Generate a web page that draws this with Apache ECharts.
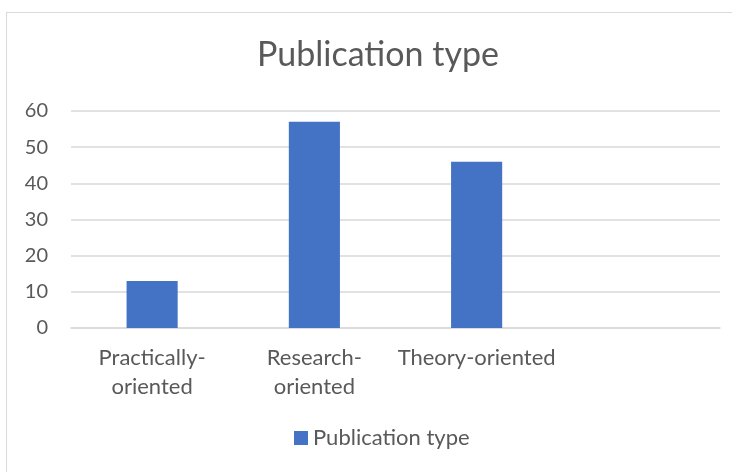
<!DOCTYPE html>
<html>
<head>
<meta charset="utf-8">
<script src="https://cdn.jsdelivr.net/npm/echarts@6/dist/echarts.min.js"></script>
<style>
html,body{margin:0;padding:0;background:#fff;}
#c{width:741px;height:472px;}
</style>
</head>
<body>
<div id="c"></div>
<script>
var chartTitle = 'Publication type';
var seriesName = 'Publication type';
var categories = ['Practically-\noriented', 'Research-\noriented', 'Theory-oriented', ''];
var values = [13, 57, 46];
var yTicks = { min: 0, max: 60, interval: 10 };

var textColor = '#595959';
var gridColor = '#d9d9d9';
var font = 'Lato';

var chart = echarts.init(document.getElementById('c'), null, { renderer: 'canvas' });
chart.setOption({
  animation: false,
  backgroundColor: '#ffffff',
  title: {
    text: chartTitle,
    left: 257,
    top: 35,
    padding: 0,
    textStyle: { color: textColor, fontFamily: font, fontSize: 34, fontWeight: 'normal', lineHeight: 40 }
  },
  grid: { left: 71, right: 21, top: 111, bottom: 144, containLabel: false },
  xAxis: {
    type: 'category',
    data: categories,
    axisLine: { show: true, lineStyle: { color: gridColor, width: 1.5 } },
    axisTick: { show: false },
    axisLabel: { color: textColor, fontFamily: font, fontSize: 22, lineHeight: 29, margin: 15, interval: 0 }
  },
  yAxis: {
    type: 'value',
    min: yTicks.min,
    max: yTicks.max,
    interval: yTicks.interval,
    axisLine: { show: false },
    axisTick: { show: false },
    splitLine: { lineStyle: { color: gridColor, width: 1.5 } },
    axisLabel: { color: textColor, fontFamily: font, fontSize: 20, margin: 23 }
  },
  legend: {
    data: [seriesName],
    bottom: 18,
    left: 289,
    itemWidth: 14,
    itemHeight: 14,
    itemGap: 10,
    icon: 'rect',
    textStyle: { color: textColor, fontFamily: font, fontSize: 22, padding: [0, 0, 0, 0] }
  },
  series: [{
    name: seriesName,
    type: 'bar',
    data: values,
    barCategoryGap: '68.5%',
    itemStyle: { color: '#4472C4' }
  }],
  graphic: [
    { type: 'line', shape: { x1: 6.5, y1: 12, x2: 6.5, y2: 472 }, style: { stroke: gridColor, lineWidth: 1 } },
    { type: 'line', shape: { x1: 6, y1: 12.5, x2: 732, y2: 12.5 }, style: { stroke: gridColor, lineWidth: 1 } }
  ]
});
</script>
</body>
</html>
